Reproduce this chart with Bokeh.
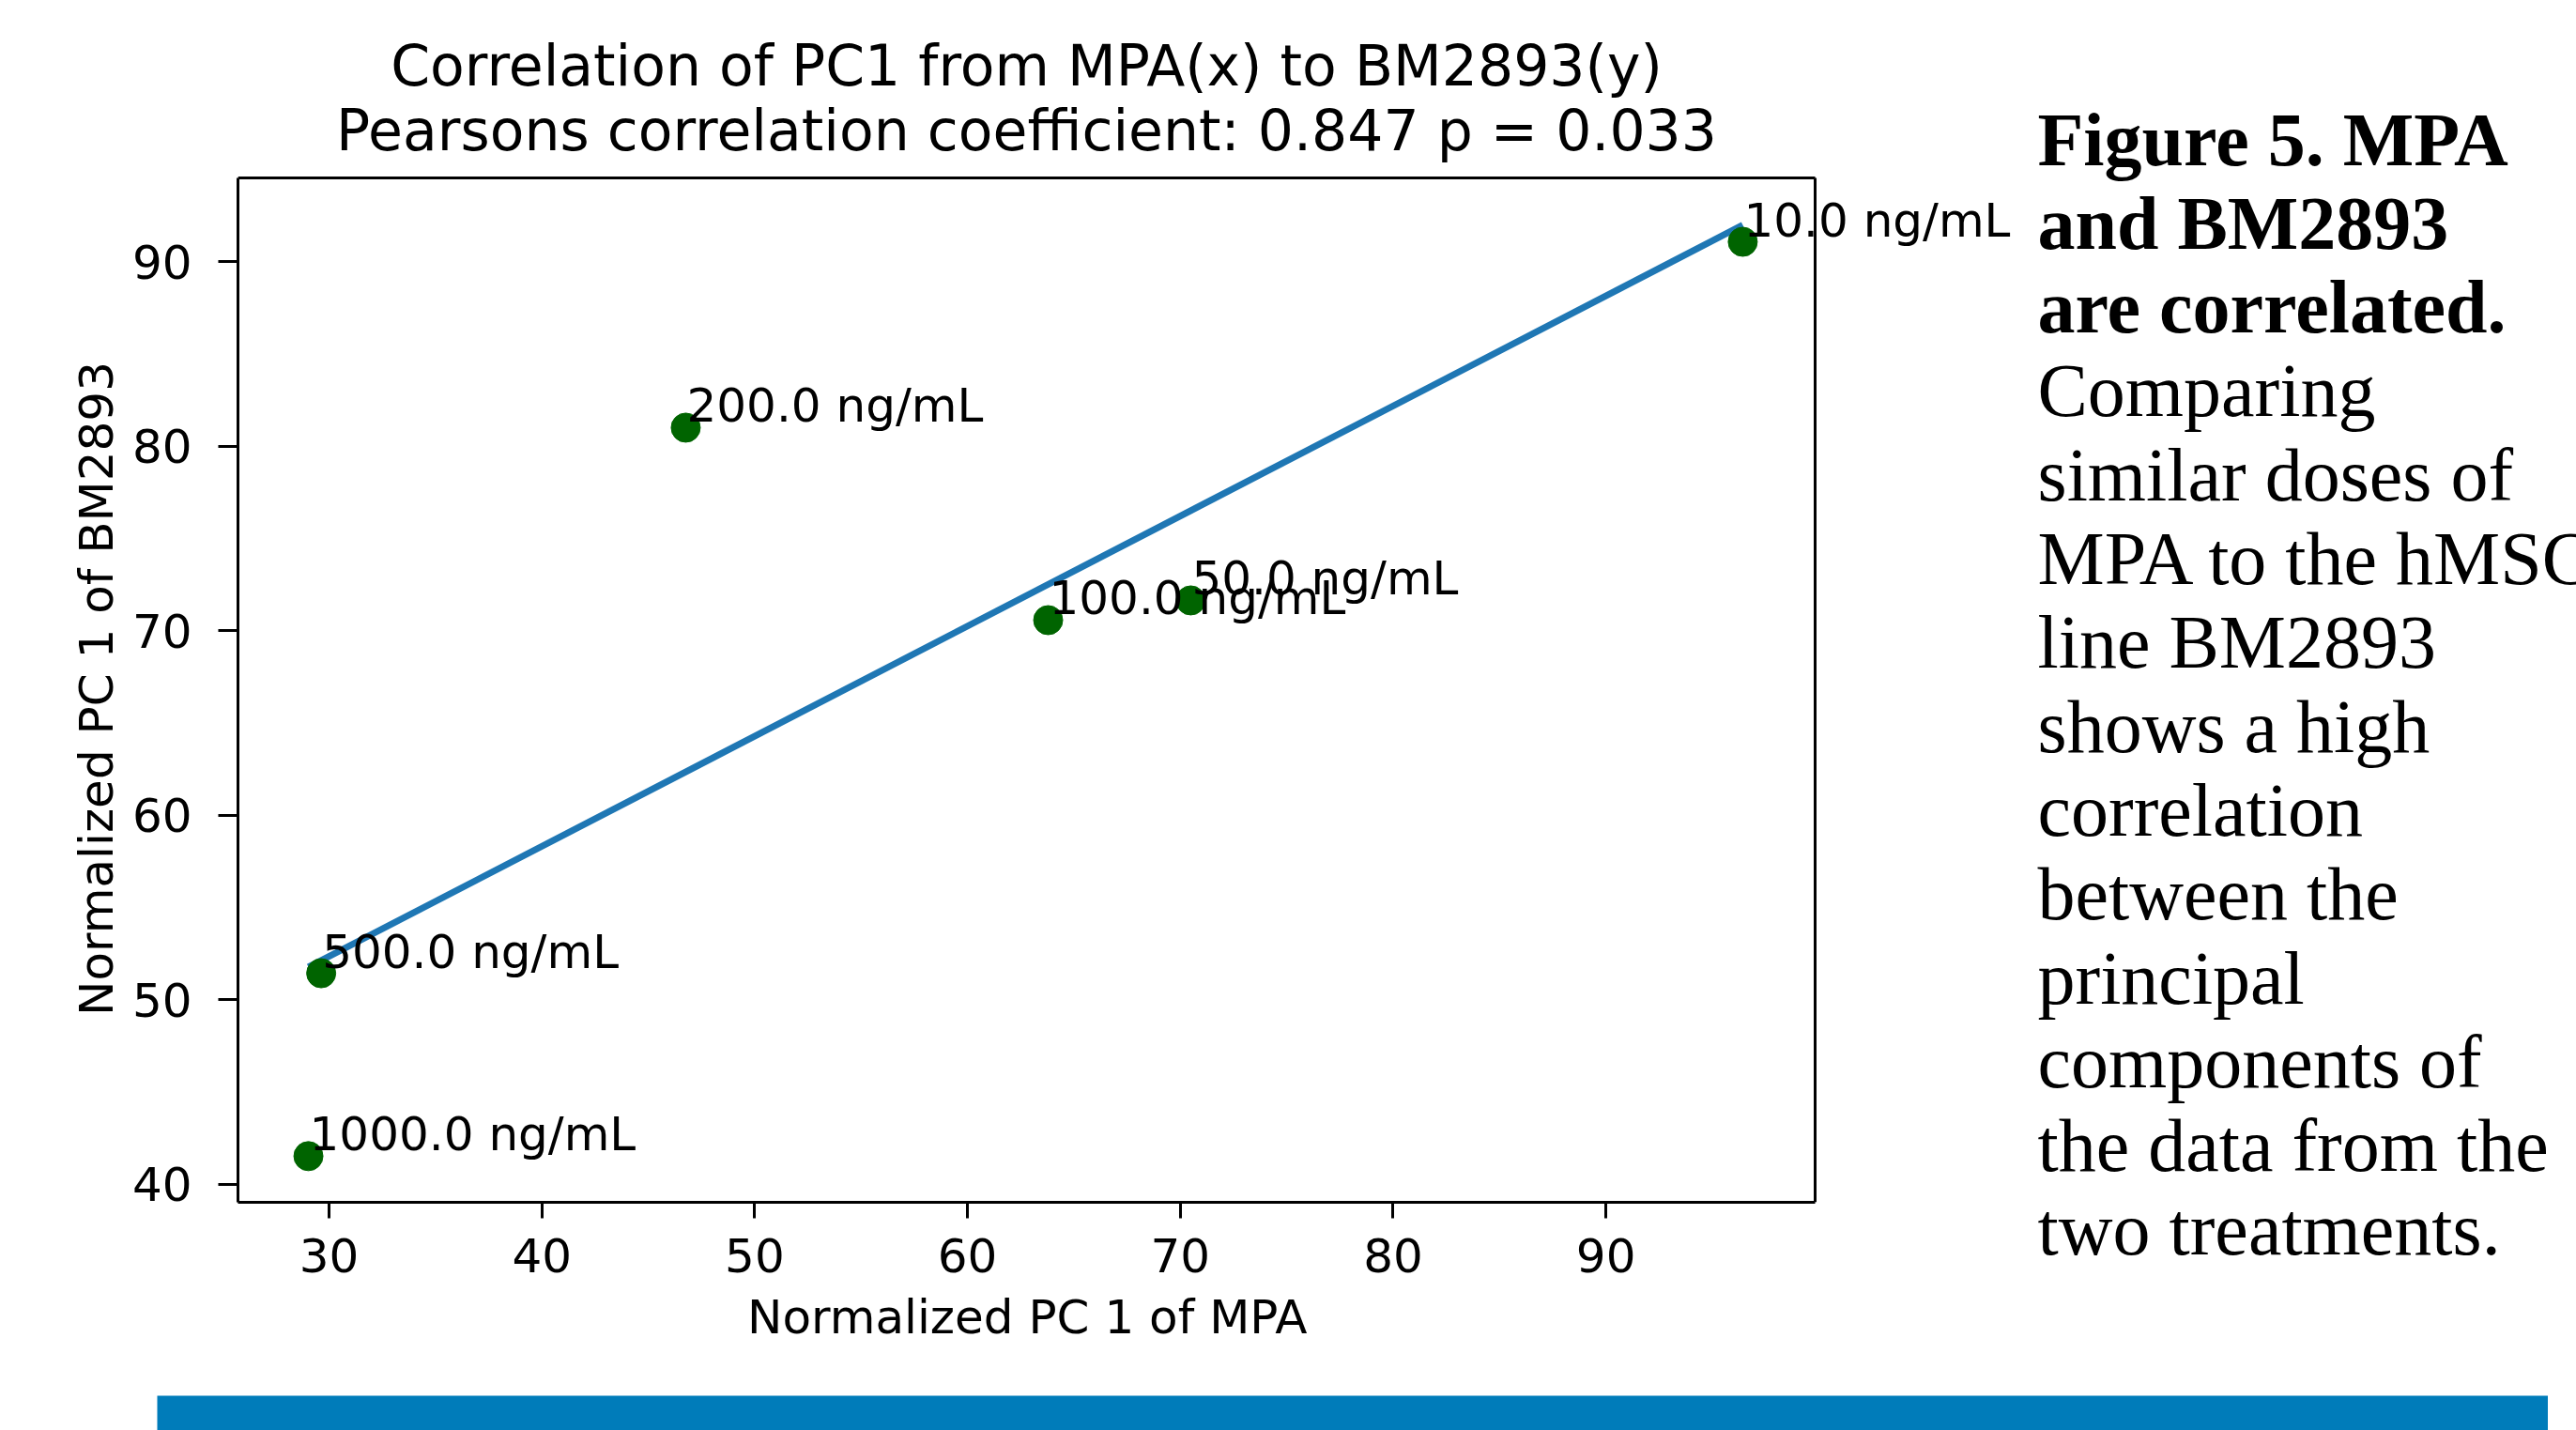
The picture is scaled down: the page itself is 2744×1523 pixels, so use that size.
import numpy as np
from bokeh.plotting import figure
from bokeh.models import (ColumnDataSource, Range1d, FixedTicker, LabelSet, Title, Spacer)
from bokeh.layouts import row, column
from bokeh.core.properties import value
from bokeh.embed import file_html
from bokeh.resources import INLINE

# ---------------- data ----------------
dose_labels = ["10.0 ng/mL", "200.0 ng/mL", "100.0 ng/mL", "50.0 ng/mL", "500.0 ng/mL", "1000.0 ng/mL"]
mpa_pc1 = [96.43, 46.76, 63.79, 70.49, 29.63, 29.03]
bm2893_pc1 = [91.07, 81.0, 70.57, 71.64, 51.44, 41.53]
x_ticks = [30, 40, 50, 60, 70, 80, 90]
y_ticks = [40, 50, 60, 70, 80, 90]
x_lo, x_hi = 25.72, 99.83
y_lo, y_hi = 39.03, 94.53
title_lines = ["Correlation of PC1 from MPA(x) to BM2893(y)",
               "Pearsons correlation coefficient: 0.847 p = 0.033"]
x_label = "Normalized PC 1 of MPA"
y_label = "Normalized PC 1 of BM2893"
caption_bold = ["Figure 5. MPA", "and BM2893", "are correlated."]
caption_normal = ["Comparing", "similar doses of", "MPA to the hMSC", "line BM2893",
                  "shows a high", "correlation", "between the", "principal",
                  "components of", "the data from the", "two treatments."]

FONT = "DejaVu Sans"
BASE_FIX = 29 / 80.0   # empirical baseline correction (fraction of font size)

# ---------------- geometry (page pixels) ----------------
left_w = 2160
top_h = 1486
head_h = 186                      # title strip height
box_left, box_right, box_top, box_bottom = 253, 1933, 189, 1280
px_per_x = (box_right - box_left) / (x_hi - x_lo)
px_per_y = (box_bottom - box_top) / (y_hi - y_lo)
x_end = x_lo + (left_w - box_left) / px_per_x
y_end = y_hi + (box_top - head_h) / px_per_y

# ---------------- title strip ----------------
head = figure(width=left_w, height=head_h, output_backend="svg", toolbar_location=None,
              x_range=Range1d(0, left_w), y_range=Range1d(head_h, 0),
              min_border=0, outline_line_color=None,
              background_fill_color="white", border_fill_color="white")
head.frame_align = False
head.axis.visible = False
head.grid.visible = False
title_base = [91, 160]
head.text(x=[(box_left + box_right) / 2] * 2, y=[b - BASE_FIX * 60 for b in title_base],
          text=title_lines, text_font=value(FONT), text_font_size="60px",
          text_color="black", text_align="center", text_baseline="alphabetic")

# ---------------- chart ----------------
p = figure(width=left_w, height=top_h - head_h, output_backend="svg", toolbar_location=None,
           x_range=Range1d(x_lo, x_end), y_range=Range1d(y_lo, y_end),
           min_border_left=box_left, min_border_right=0, min_border_top=0,
           min_border_bottom=top_h - box_bottom,
           background_fill_color="white", border_fill_color="white")
p.frame_align = False
p.grid.visible = False
p.outline_line_color = None

for ax in (p.xaxis[0], p.yaxis[0]):
    ax.axis_line_width = 3
    ax.axis_line_color = "black"
    ax.major_tick_line_width = 3
    ax.major_tick_line_color = "black"
    ax.major_tick_in = 0
    ax.minor_tick_line_color = None
    ax.major_label_text_font = FONT
    ax.major_label_text_font_size = "50px"
    ax.major_label_text_color = "black"
    ax.axis_label_text_font = FONT
    ax.axis_label_text_font_size = "50px"
    ax.axis_label_text_font_style = "normal"
    ax.axis_label_text_color = "black"

p.xaxis[0].ticker = FixedTicker(ticks=x_ticks)
p.yaxis[0].ticker = FixedTicker(ticks=y_ticks)
p.xaxis[0].bounds = (x_lo, x_hi)
p.yaxis[0].bounds = (y_lo, y_hi)
p.xaxis[0].major_tick_out = 17
p.xaxis[0].major_label_standoff = 21
p.yaxis[0].major_tick_out = 21
p.yaxis[0].major_label_standoff = 28
p.yaxis[0].axis_label = y_label
p.yaxis[0].axis_label_standoff = 6

# x-axis label as a left-aligned title below, centred under the plot box
xlab_w = 595
xl = Title(text=x_label, align="left", offset=(box_left + box_right) / 2 - xlab_w / 2 - box_left,
           text_font=FONT, text_font_size="50px", text_font_style="normal",
           text_color="black", standoff=28)
p.add_layout(xl, "below")

# top and right spines
p.segment(x0=[x_lo, x_hi], y0=[y_hi, y_lo], x1=[x_hi, x_hi], y1=[y_hi, y_hi],
          line_color="black", line_width=3)

src = ColumnDataSource(dict(x=mpa_pc1, y=bm2893_pc1, label=dose_labels))

# least-squares fit line
slope, intercept = np.polyfit(mpa_pc1, bm2893_pc1, 1)
fx = [min(mpa_pc1), max(mpa_pc1)]
fy = [slope * v + intercept for v in fx]
p.line(fx, fy, line_color="#1f77b4", line_width=7)

p.scatter("x", "y", source=src, size=31, fill_color="#006400", line_color="#006400")

labels = LabelSet(x="x", y="y", text="label", source=src, x_offset=1, y_offset=6,
                  text_font=value(FONT), text_font_size="50px", text_color="black",
                  text_align="left", text_baseline="alphabetic")
p.add_layout(labels)

# ---------------- caption ----------------
cw, ch = 2744 - left_w, top_h
c = figure(width=cw, height=ch, output_backend="svg", toolbar_location=None,
           x_range=Range1d(0, cw), y_range=Range1d(ch, 0),
           min_border=0, outline_line_color=None,
           background_fill_color="white", border_fill_color="white")
c.frame_align = False
c.axis.visible = False
c.grid.visible = False
line_h = 89.3
first_base = 177 - BASE_FIX * 80
bold_y = [first_base + i * line_h for i in range(len(caption_bold))]
norm_y = [first_base + (i + len(caption_bold)) * line_h for i in range(len(caption_normal))]
c.text(x=[10] * len(caption_bold), y=bold_y, text=caption_bold,
       text_font=value("Liberation Serif"), text_font_size="80px", text_font_style="bold",
       text_color="black", text_align="left", text_baseline="alphabetic")
c.text(x=[10] * len(caption_normal), y=norm_y, text=caption_normal,
       text_font=value("Liberation Serif"), text_font_size="80px", text_font_style="normal",
       text_color="black", text_align="left", text_baseline="alphabetic")

# ---------------- bottom bar ----------------
bar = figure(width=2547, height=37, output_backend="svg", toolbar_location=None,
             min_border=0, outline_line_color=None,
             background_fill_color="#007cba", border_fill_color="#007cba")
bar.frame_align = False
bar.axis.visible = False
bar.grid.visible = False

layout = column(row(column(head, p), c), row(Spacer(width=167, height=37), bar))

open("out.html", "w").write(file_html(layout, INLINE))
